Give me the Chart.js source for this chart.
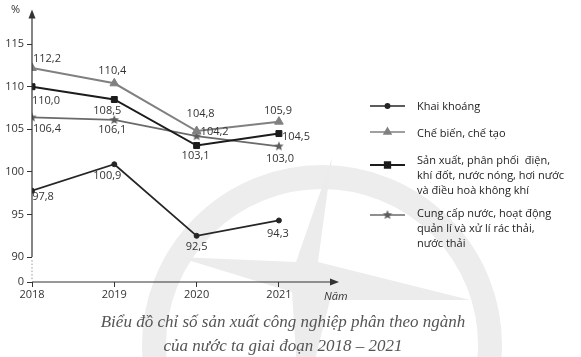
<!DOCTYPE html>
<html><head><meta charset="utf-8">
<script src="https://cdn.jsdelivr.net/npm/chart.js@4/dist/chart.umd.min.js"></script>
<style>
html,body{margin:0;padding:0;background:#fff;}
#wrap{position:relative;width:581px;height:357px;overflow:hidden;}
#c{position:absolute;left:0;top:0;}
.lg{position:absolute;left:417px;font:11px "Open Sans";color:#222;line-height:15px;white-space:nowrap;}
.title{position:absolute;left:0;width:566px;text-align:center;font:italic 17px "Liberation Serif";color:#555;white-space:nowrap;line-height:20px;}
.ax{position:absolute;font:11px "Open Sans";color:#333;white-space:nowrap;}
</style></head>
<body><div id="wrap">
<canvas id="c" width="581" height="357"></canvas>
<div class="ax" style="left:11px;top:1px;">%</div>
<div class="ax" style="left:324px;top:288px;font-style:italic;">Năm</div>
<div class="lg" style="top:98px;">Khai khoáng</div>
<div class="lg" style="top:125px;">Chế biến, chế tạo</div>
<div class="lg" style="top:152px;">Sản xuất, phân phối&nbsp; điện,<br>khí đốt, nước nóng, hơi nước<br>và điều hoà không khí</div>
<div class="lg" style="top:205px;">Cung cấp nước, hoạt động<br>quản lí và xử lí rác thải,<br>nước thải</div>
<div class="title" style="top:312px;">Biểu đồ chỉ số sản xuất công nghiệp phân theo ngành</div>
<div class="title" style="top:336px;">của nước ta giai đoạn 2018 – 2021</div>
</div>
<script>
// ---- data ----
const years = [2018, 2019, 2020, 2021];
const khaiKhoang = [97.8, 100.9, 92.5, 94.3];
const cheBien = [112.2, 110.4, 104.8, 105.9];
const sanXuat = [110.0, 108.5, 103.1, 104.5];
const cungCap = [106.4, 106.1, 104.2, 103.0];
const yTickValues = [90, 95, 100, 105, 110, 115];
const yBreakLabel = "0";
const seriesNames = ["Khai khoáng", "Chế biến, chế tạo", "Sản xuất, phân phối điện, khí đốt, nước nóng, hơi nước và điều hoà không khí", "Cung cấp nước, hoạt động quản lí và xử lí rác thải, nước thải"];

// ---- styling / layout (not data) ----
const Y_MIN = 87.08, Y_MAX = 119.05, X_MAX = 2021.73;
const labelOffsets = [
  [[11,6],[-7,12],[0,11],[-1,13]],
  [[15,-9],[-2,-12],[4,-17],[-1,-11]],
  [[14,14],[-7,11],[-1,10],[17,3]],
  [[15,11],[-2,10],[18,-4],[1,13]]
];
function makeStar(color, R, r){
  const s = Math.ceil(R*2)+2, c = document.createElement('canvas');
  c.width = s; c.height = s;
  const g = c.getContext('2d'); g.fillStyle = color; g.beginPath();
  for (let i=0;i<10;i++){
    const rad = i%2===0 ? R : r, a = -Math.PI/2 + i*Math.PI/5;
    const px = s/2 + rad*Math.cos(a), py = s/2 + rad*Math.sin(a);
    i===0 ? g.moveTo(px,py) : g.lineTo(px,py);
  }
  g.closePath(); g.fill(); return c;
}
const starImg = makeStar('#5e5e5e', 5, 2.2);
const styles = [
  {color:'#262626', width:1.8, style:'circle', r:2.5},
  {color:'#808080', width:2, style:'triangle', r:5},
  {color:'#1c1c1c', width:2, style:'rect', r:4.2},
  {color:'#6a6a6a', width:1.8, style:starImg, r:5}
];
const allSeries = [khaiKhoang, cheBien, sanXuat, cungCap];
const fmt = v => v.toFixed(1).replace('.', ',');

const watermark = {
  id:'watermark',
  beforeDraw(chart){
    const ctx = chart.ctx; ctx.save();
    ctx.strokeStyle = '#ededed'; ctx.lineWidth = 24;
    ctx.beginPath(); ctx.arc(322, 345, 168, 0, Math.PI*2); ctx.stroke();
    ctx.fillStyle = '#ececec';
    ctx.beginPath();
    ctx.moveTo(332,158); ctx.lineTo(318,262); ctx.lineTo(470,300); ctx.lineTo(330,300);
    ctx.lineTo(300,420); ctx.lineTo(292,292); ctx.lineTo(178,257); ctx.lineTo(296,262);
    ctx.closePath(); ctx.fill();
    ctx.restore();
  }
};

const axesAndLabels = {
  id:'axesAndLabels',
  afterDatasetsDraw(chart){
    const ctx = chart.ctx, a = chart.chartArea;
    const ys = chart.scales.y;
    ctx.save();
    ctx.strokeStyle = '#333'; ctx.fillStyle = '#333'; ctx.lineWidth = 1.2;
    const y90 = ys.getPixelForValue(90);
    ctx.beginPath(); ctx.moveTo(a.left, y90); ctx.lineTo(a.left, a.top + 4); ctx.stroke();
    ctx.beginPath(); ctx.moveTo(a.left-3.5, a.top+9); ctx.lineTo(a.left, a.top); ctx.lineTo(a.left+3.5, a.top+9); ctx.closePath(); ctx.fill();
    ctx.save(); ctx.strokeStyle = '#999'; ctx.lineWidth = 1; ctx.setLineDash([1.5,2]);
    ctx.beginPath(); ctx.moveTo(a.left, y90+3); ctx.lineTo(a.left, a.bottom-2); ctx.stroke(); ctx.restore();
    ctx.beginPath(); ctx.moveTo(a.left, a.bottom); ctx.lineTo(a.right-4, a.bottom); ctx.stroke();
    ctx.beginPath(); ctx.moveTo(a.right-9, a.bottom-3.5); ctx.lineTo(a.right, a.bottom); ctx.lineTo(a.right-9, a.bottom+3.5); ctx.closePath(); ctx.fill();
    // data labels
    ctx.font = '11px "Open Sans"'; ctx.fillStyle = '#333'; ctx.textAlign = 'center'; ctx.textBaseline = 'middle';
    chart.data.datasets.forEach((ds, i) => {
      const meta = chart.getDatasetMeta(i);
      meta.data.forEach((pt, j) => {
        const o = labelOffsets[i][j];
        ctx.fillText(fmt(ds.data[j].y), pt.x + o[0], pt.y + o[1]);
      });
    });
    // legend samples
    const ly = [106, 132, 165, 215];
    styles.forEach((s, i) => {
      ctx.strokeStyle = s.color; ctx.fillStyle = s.color; ctx.lineWidth = i===2 ? 2.2 : 1.5;
      ctx.beginPath(); ctx.moveTo(370, ly[i]); ctx.lineTo(405, ly[i]); ctx.stroke();
      Chart.helpers.drawPoint(ctx, {pointStyle: s.style, radius: i===2 ? 3.6 : (i===0 ? 2.2 : 4), borderWidth: 1, rotation: 0}, 387.5, ly[i]);
    });
    ctx.restore();
  }
};

new Chart(document.getElementById('c'), {
  type:'line',
  data:{
    datasets: allSeries.map((arr, i) => ({
      label: seriesNames[i],
      data: arr.map((v, j) => ({x: years[j], y: v})),
      borderColor: styles[i].color, backgroundColor: styles[i].color,
      borderWidth: styles[i].width, pointStyle: styles[i].style,
      pointRadius: styles[i].r, pointBorderWidth: 1, tension: 0, fill: false
    }))
  },
  options:{
    responsive:false, animation:false, devicePixelRatio:1,
    layout:{padding:{top:8, right:242, left:0, bottom:0}},
    plugins:{legend:{display:false}, tooltip:{enabled:false}},
    scales:{
      x:{type:'linear', min:2018, max:X_MAX,
        afterBuildTicks: s => { s.ticks = years.map(v => ({value:v})); },
        afterFit: s => { s.height = 75; },
        grid:{drawOnChartArea:false, drawTicks:true, tickLength:5, color:'#333', lineWidth:1},
        border:{display:false},
        ticks:{color:'#333', font:{family:'Open Sans', size:11}, padding:1, maxRotation:0, autoSkip:false, callback: v => String(v)}
      },
      y:{type:'linear', min:Y_MIN, max:Y_MAX,
        afterBuildTicks: s => { s.ticks = [Y_MIN].concat(yTickValues).map(v => ({value:v})); },
        afterFit: s => { s.width = 32; },
        grid:{drawOnChartArea:false, drawTicks:true, tickLength:5, color:'#333', lineWidth:1},
        border:{display:false},
        ticks:{color:'#333', font:{family:'Open Sans', size:11}, padding:3, autoSkip:false,
          callback: v => (Math.abs(v - Y_MIN) < 0.01 ? yBreakLabel : String(v))}
      }
    }
  },
  plugins:[watermark, axesAndLabels]
});
</script>
</body></html>
